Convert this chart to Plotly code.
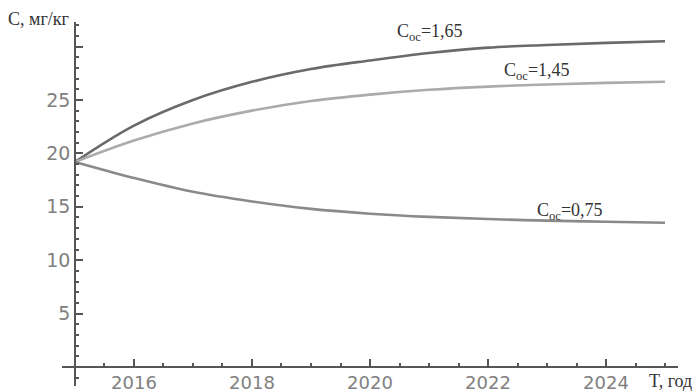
import plotly.graph_objects as go

years = [2015, 2016, 2017, 2018, 2019, 2020, 2021, 2022, 2023, 2024, 2025]
c_165 = [19.2, 22.6, 25.0, 26.7, 27.9, 28.7, 29.4, 29.9, 30.15, 30.35, 30.5]
c_145 = [19.2, 21.2, 22.8, 24.0, 24.9, 25.5, 25.95, 26.25, 26.45, 26.6, 26.7]
c_075 = [19.2, 17.7, 16.4, 15.5, 14.8, 14.35, 14.05, 13.85, 13.7, 13.6, 13.5]

x_major = [2016, 2018, 2020, 2022, 2024]
y_major = [5, 10, 15, 20, 25, 30]
y_labels = ["5", "10", "15", "20", "25", ""]

series = [
    (c_165, "#6a6a6a", "C<sub>oc</sub>=1,65", 2020.42, 31.3),
    (c_145, "#ababab", "C<sub>oc</sub>=1,45", 2022.24, 27.7),
    (c_075, "#8a8a8a", "C<sub>oc</sub>=0,75", 2022.8, 14.6),
]

fig = go.Figure()
for vals, col, name, lx, ly in series:
    fig.add_trace(go.Scatter(x=years, y=vals, mode="lines",
                             line=dict(color=col, width=2.6, shape="spline", smoothing=1.0),
                             showlegend=False, hoverinfo="skip"))
    fig.add_annotation(x=lx, y=ly, xref="x", yref="y", text=name, showarrow=False,
                       xanchor="left", yanchor="middle",
                       font=dict(family="Liberation Serif", size=18, color="#333333"))

xr = [2014.78, 2025.22]
yr = [-1.78, 32.3]
x_pos = (2015 - xr[0]) / (xr[1] - xr[0])
y_pos = (0 - yr[0]) / (yr[1] - yr[0])

fig.update_xaxes(range=xr, anchor="free", position=y_pos, showline=True, linecolor="#555555",
                 linewidth=1.5, showgrid=False, zeroline=False, ticks="inside", ticklen=7,
                 tickwidth=1.5, tickcolor="#555555", tickmode="array", tickvals=x_major,
                 ticktext=[str(v) for v in x_major], automargin=False, ticklabelstandoff=0,
                 tickfont=dict(family="DejaVu Sans", size=18, color="#808080"),
                 minor=dict(ticks="inside", ticklen=3, tickwidth=1.5, tickcolor="#555555",
                            dtick=0.5, tick0=2015, showgrid=False))
fig.update_yaxes(range=yr, anchor="free", position=x_pos, showline=True, linecolor="#555555",
                 linewidth=1.5, showgrid=False, zeroline=False, ticks="inside", ticklen=7,
                 tickwidth=1.5, tickcolor="#555555", tickmode="array", tickvals=y_major,
                 ticktext=y_labels, automargin=False,
                 tickfont=dict(family="DejaVu Sans", size=19, color="#808080"),
                 minor=dict(ticks="inside", ticklen=3.5, tickwidth=1.5, tickcolor="#555555",
                            dtick=1, tick0=0, showgrid=False))

W, H = 699, 392
l, r, t, b = 62, 21, 22, 6
pw, ph = W - l - r, H - t - b

def px(x):
    return (x - l) / pw

def py(y):
    return (H - b - y) / ph

fig.add_annotation(x=px(71), y=py(19), xref="paper", yref="paper", text="C, мг/кг",
                   showarrow=False, xanchor="right", yanchor="middle",
                   font=dict(family="Liberation Serif", size=18, color="#333333"))
fig.add_annotation(x=px(647), y=py(381), xref="paper", yref="paper", text="T, год",
                   showarrow=False, xanchor="left", yanchor="middle",
                   font=dict(family="Liberation Serif", size=18, color="#333333"))

fig.update_layout(width=W, height=H, margin=dict(l=l, r=r, t=t, b=b, autoexpand=False),
                  plot_bgcolor="white", paper_bgcolor="white")
fig.write_html("out.html")
